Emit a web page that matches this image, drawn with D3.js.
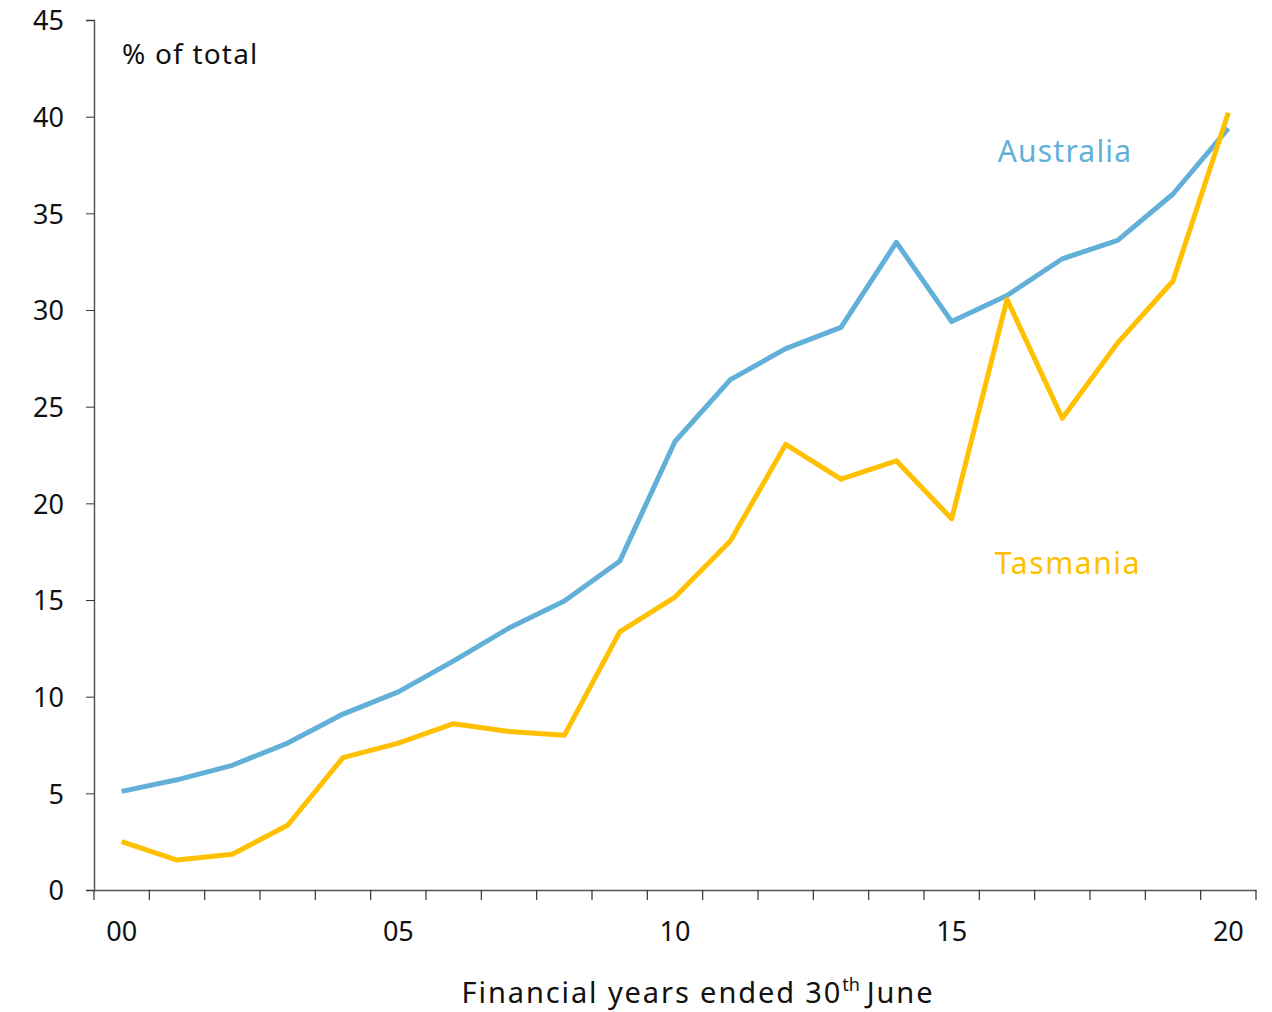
<!DOCTYPE html>
<html><head><meta charset="utf-8">
<script src="https://cdn.jsdelivr.net/npm/d3@7"></script>
<style>body{margin:0;background:#fff}svg{display:block}text{font-family:"Noto Sans",sans-serif;fill:#111}</style>
</head><body>
<script>
const years = ["00","01","02","03","04","05","06","07","08","09","10","11","12","13","14","15","16","17","18","19","20"];
const tickLabels = ["00","05","10","15","20"];
const australia = [5.1,5.7,6.45,7.6,9.1,10.25,11.85,13.55,14.95,17.0,23.2,26.4,28.0,29.1,33.5,29.4,30.75,32.65,33.6,36.0,39.4];
const tasmania = [2.5,1.55,1.85,3.35,6.85,7.6,8.6,8.2,8.0,13.35,15.15,18.05,23.05,21.25,22.2,19.2,30.55,24.4,28.3,31.5,40.2];
const yTicks = [0,5,10,15,20,25,30,35,40,45];

const W=1272,H=1012;
const svg=d3.select("body").append("svg").attr("width",W).attr("height",H);
const x=d3.scaleBand().domain(years).range([94,1256]);
const y=d3.scaleLinear().domain([0,45]).range([890,20]);

const yAxis=svg.append("g").attr("transform","translate(94,0)")
  .call(d3.axisLeft(y).tickValues(yTicks).tickSize(8).tickPadding(22));
yAxis.selectAll("text").style("font-size","27px").attr("dy","0.36em");
const xAxis=svg.append("g").attr("transform","translate(0,890)")
  .call(d3.axisBottom(x).tickValues(tickLabels).tickSize(0).tickPadding(32));
xAxis.selectAll("text").style("font-size","27px");
// boundary ticks
const bounds=years.map(d=>x(d)).concat([x.range()[1]]);
svg.append("g").selectAll("line").data(bounds).join("line")
  .attr("x1",d=>d).attr("x2",d=>d).attr("y1",890).attr("y2",900)
  .attr("stroke","#333").attr("stroke-width",1.2);
svg.selectAll(".domain").attr("stroke","#555").attr("stroke-width",1.5);
svg.selectAll(".tick line").attr("stroke","#333");

const cx=d=>x(d)+x.bandwidth()/2;
const line=d3.line().x((d,i)=>cx(years[i])).y(d=>y(d));
svg.append("path").datum(australia).attr("d",line).attr("fill","none").attr("stroke","#62B0D8").attr("stroke-width",5).attr("stroke-linejoin","round");
svg.append("path").datum(tasmania).attr("d",line).attr("fill","none").attr("stroke","#FFC000").attr("stroke-width",5).attr("stroke-linejoin","round");

svg.append("text").attr("x",122).attr("y",64).style("font-size","28px").style("letter-spacing","1.2px").text("% of total");
svg.append("text").attr("x",1065).attr("y",162).attr("text-anchor","middle").style("font-size","30px").style("letter-spacing","1.2px").style("fill","#62B0D8").text("Australia");
svg.append("text").attr("x",1068).attr("y",574).attr("text-anchor","middle").style("font-size","30px").style("letter-spacing","1.6px").style("fill","#FFC000").text("Tasmania");

const xl=svg.append("text").attr("x",698).attr("y",1003).attr("text-anchor","middle").style("font-size","29px").style("letter-spacing","1.9px");
xl.append("tspan").text("Financial years ended 30");
xl.append("tspan").attr("dy",-12).style("font-size","18px").style("letter-spacing","0px").text("th");
xl.append("tspan").attr("dy",12).text("\u2009June");
</script>
</body></html>
